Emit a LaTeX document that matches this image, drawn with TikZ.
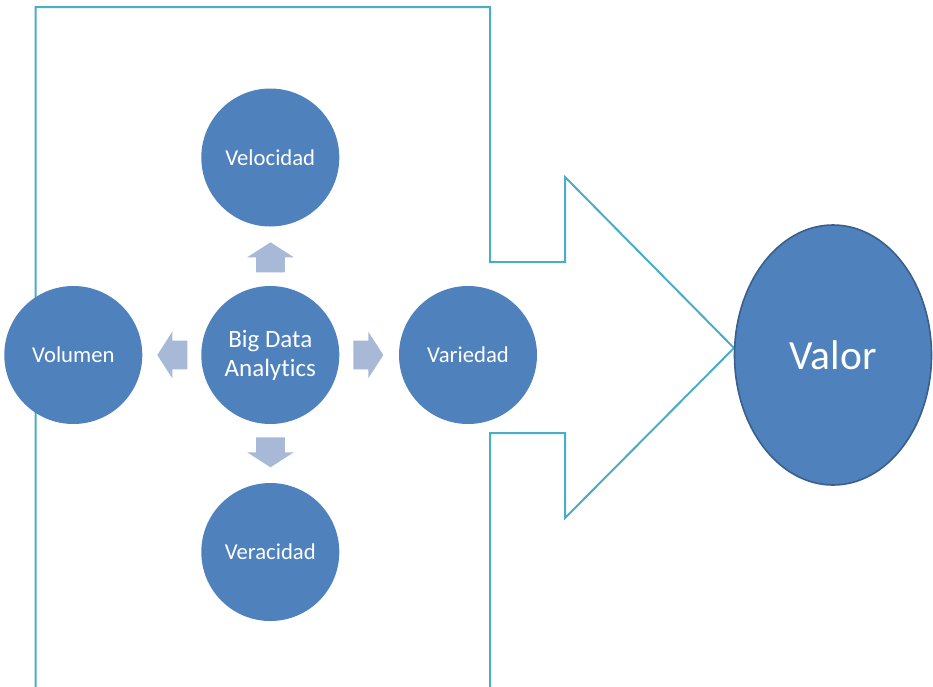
\documentclass[tikz,border=0pt]{standalone}
\usepackage{fontspec}
\setmainfont{Carlito}[Ligatures=NoCommon]
\usetikzlibrary{shapes.geometric}
\definecolor{circfill}{RGB}{79,129,189}
\definecolor{arrfill}{RGB}{167,185,214}
\definecolor{teal}{RGB}{75,172,198}
\definecolor{valline}{RGB}{58,95,139}
\tikzset{
  bubble/.style={circle, fill=circfill, minimum size=138pt, inner sep=0pt, text=white, font=\fontsize{22.7}{27}\selectfont, align=center},
  blockarrow/.pic={\fill[arrfill] (0,-14.3) -- (15,-14.3) -- (15,-23.3) -- (30,0) -- (15,23.3) -- (15,14.3) -- (0,14.3) -- cycle;},
  bigarrow/.style={draw=teal, line width=2pt, line join=miter},
}
\begin{document}
\begin{tikzpicture}[x=1pt,y=-1pt]
\useasboundingbox (0,0) rectangle (933,686);
% big outlined arrow
\draw[bigarrow] (35.5,690) -- (35.5,7) -- (490,7) -- (490,262) -- (565,262) -- (565,177)
  -- (734,348) -- (565,518) -- (565,433) -- (490,433) -- (490,690);
% circles
\node[bubble] (vel) at (270.3,157.5) {Velocidad};
\node[bubble, font=\fontsize{25}{29}\selectfont] (bda) at (270.3,355) {Big Data\\Analytics};
\node[bubble] (vol) at (73.3,355) {Volumen};
\node[bubble] (var) at (468,355) {Variedad};
\node[bubble] (ver) at (270.3,552) {Veracidad};
% small arrows
\pic[rotate=90] (aup) at (270.5,272.3) {blockarrow};
\pic[rotate=-90] (adown) at (270.5,437.3) {blockarrow};
\pic (aright) at (353.3,355) {blockarrow};
\pic[rotate=180] (aleft) at (187.3,355) {blockarrow};
% valor
\node[ellipse, fill=circfill, draw=valline, line width=1.6pt, minimum width=197pt, minimum height=260pt, inner sep=0pt, text=white, font=\fontsize{41.5}{48}\selectfont] (valor) at (833,355) {Valor};
\end{tikzpicture}
\end{document}
